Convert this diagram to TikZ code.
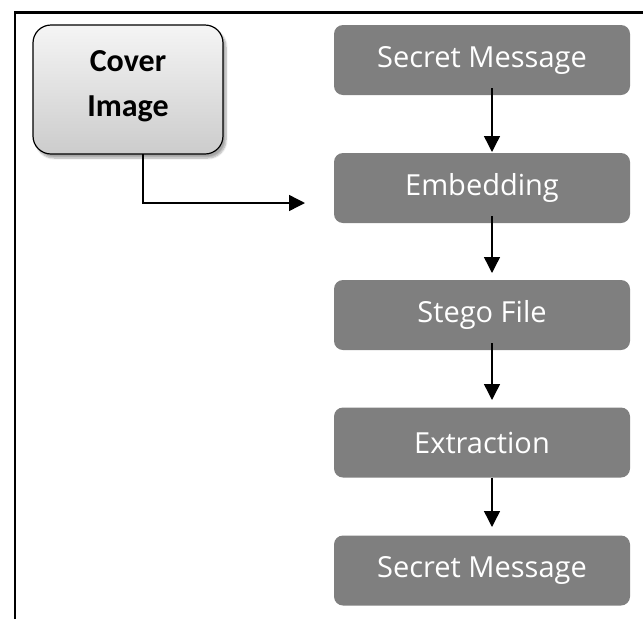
\documentclass[tikz,border=0pt]{standalone}
\usepackage{fontspec}
\setmainfont{Carlito}
\newfontfamily\stagefont{Open Sans}
\usetikzlibrary{arrows.meta,shadows.blur}
\definecolor{stepgray}{HTML}{7F7F7F}
\tikzset{
  x=1pt, y=-1pt,
  stagebox/.style={draw=none, fill=stepgray, rounded corners=9pt,
    minimum width=296pt, minimum height=70pt, text=white,
    font=\stagefont\fontsize{29}{31}\selectfont, inner sep=0pt},
  coverbox/.style={draw=black, line width=1.2pt, rounded corners=18pt,
    top color=gray!8, bottom color=gray!40,
    minimum width=190pt, minimum height=129pt, inner sep=0pt, text depth=12pt,
    align=center, font=\bfseries\fontsize{32}{45}\selectfont,
    blur shadow={shadow xshift=3pt, shadow yshift=-4pt, shadow blur steps=8, shadow opacity=35}},
  flow/.style={line width=1.4pt, -{Triangle[length=16pt,width=16pt]}}
}
\begin{document}
\begin{tikzpicture}
\useasboundingbox (0,0) rectangle (643,619);
% frame edges
\draw[line width=2.2pt] (15,619) -- (15,12.5) -- (643,12.5);
% cover image
\node[coverbox] (cover) at (128,89.5) {Cover\\Image};
% processing chain
\node[stagebox] (msg1) at (482,60) {Secret Message};
\node[stagebox] (emb) at (482,188) {Embedding};
\node[stagebox] (stego) at (482,315) {Stego File};
\node[stagebox] (ext) at (482,442.5) {Extraction};
\node[stagebox] (msg2) at (482,570.5) {Secret Message};
\coordinate (bend) at (143,203);
\coordinate (embin) at (305,203);
\draw[flow] (143,154) -- (bend) -- (embin);
\draw[flow] ([yshift=7pt]msg1.south -| 492,0) -- (492,152);
\draw[flow] ([yshift=7pt]emb.south -| 492,0) -- (492,273);
\draw[flow] ([yshift=7pt]stego.south -| 492,0) -- (492,400);
\draw[flow] ([yshift=-0pt]ext.south -| 492,0) -- (492,527);
\end{tikzpicture}
\end{document}
